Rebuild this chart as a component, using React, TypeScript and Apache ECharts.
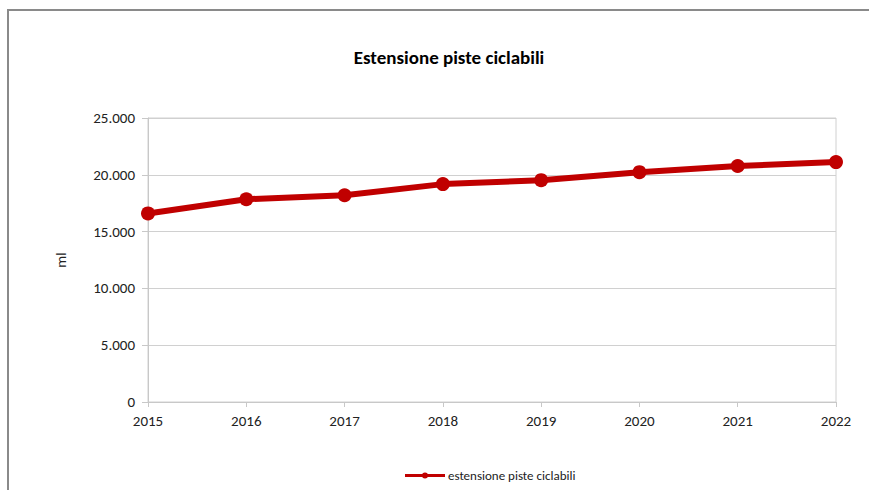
import React, { useEffect, useRef } from "react";
import * as echarts from "echarts";

const categories = ["2015", "2016", "2017", "2018", "2019", "2020", "2021", "2022"];
const values = [16600, 17850, 18200, 19180, 19530, 20230, 20780, 21120];
const seriesName = "estensione piste ciclabili";
const titleText = "Estensione piste ciclabili";
const yAxisName = "ml";

const FONT = 'Carlito, Lato, "Open Sans", "Noto Sans", sans-serif';

export default function App() {
  const ref = useRef<HTMLDivElement>(null);
  useEffect(() => {
    if (!ref.current) return;
    const chart = echarts.init(ref.current, null, { renderer: "svg" });
    chart.setOption({
      animation: false,
      backgroundColor: "#ffffff",
      title: {
        text: titleText,
        left: 444,
        top: 43,
        textAlign: "center",
        textStyle: { fontFamily: FONT, fontSize: 19, fontWeight: "bold", color: "#000" },
      },
      graphic: [
        {
          type: "rect",
          shape: { x: 8, y: 10, width: 900, height: 520 },
          style: { fill: "none", stroke: "#8a8a8a", lineWidth: 2 },
          silent: true,
        },
      ],
      legend: {
        top: 464,
        left: 400,
        data: [seriesName],
        itemWidth: 42,
        itemHeight: 6,
        itemGap: 4,
        textStyle: { fontFamily: FONT, fontSize: 13, color: "#222", padding: [0, 0, 0, -3] },
        icon: "path://M0,3.5L40,3.5L40,6.5L0,6.5Z M17,5a3,3 0 1,1 6,0a3,3 0 1,1 -6,0Z",
      },
      grid: {
        left: 148,
        right: 33,
        top: 118,
        bottom: 88,
        show: true,
        borderColor: "#d0d0d0",
        borderWidth: 1,
      },
      xAxis: {
        type: "category",
        data: categories,
        boundaryGap: false,
        axisLine: { show: true, lineStyle: { color: "#c8c8c8", width: 1 } },
        axisTick: { show: true, alignWithLabel: true, length: 5, lineStyle: { color: "#c8c8c8" } },
        axisLabel: { fontFamily: FONT, fontSize: 15, color: "#222", margin: 11 },
        splitLine: { show: false },
      },
      yAxis: {
        type: "value",
        min: 0,
        max: 25000,
        interval: 5000,
        name: yAxisName,
        nameLocation: "middle",
        nameGap: 80,
        nameRotate: 90,
        nameTextStyle: { fontFamily: FONT, fontSize: 15, color: "#222" },
        axisLine: { show: true, lineStyle: { color: "#c8c8c8", width: 1 } },
        axisTick: { show: true, length: 6, lineStyle: { color: "#c8c8c8" } },
        axisLabel: {
          fontFamily: FONT,
          fontSize: 15,
          color: "#222",
          margin: 13,
          formatter: (v: number) =>
            String(v).replace(/\B(?=(\d{3})+(?!\d))/g, "."),
        },
        splitLine: { show: true, lineStyle: { color: "#d0d0d0" } },
      },
      series: [
        {
          name: seriesName,
          type: "line",
          data: values,
          color: "#c00000",
          lineStyle: { color: "#c00000", width: 6 },
          itemStyle: { color: "#c00000" },
          symbol: "circle",
          symbolSize: 14,
        },
      ],
    });
    return () => chart.dispose();
  }, []);
  return (
    <div
      ref={ref}
      style={{ position: "fixed", left: 0, top: 0, width: 869, height: 490 }}
    />
  );
}
